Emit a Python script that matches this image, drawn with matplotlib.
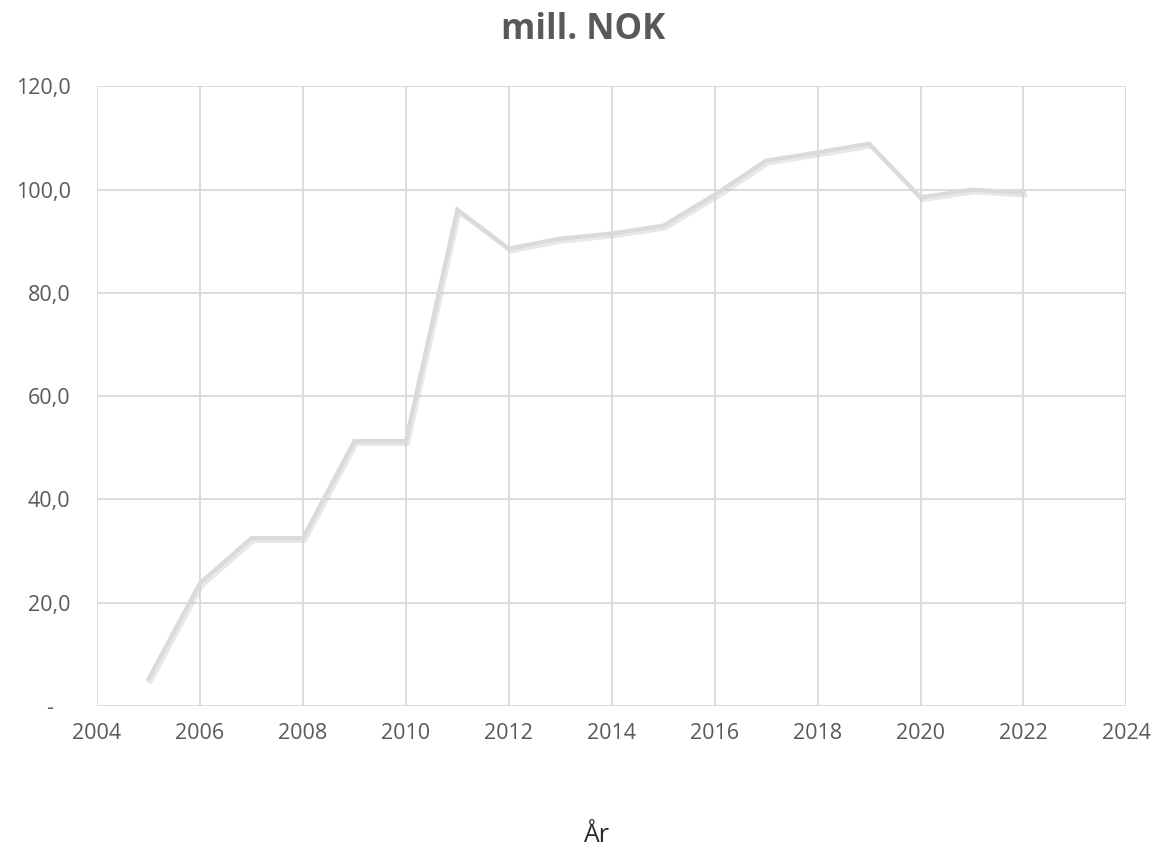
import matplotlib.pyplot as plt
import matplotlib.patheffects as pe
from matplotlib.ticker import FuncFormatter

plt.rcParams['font.family'] = ['Open Sans', 'DejaVu Sans']

aar = [2005, 2006, 2007, 2008, 2009, 2010, 2011, 2012, 2013,
       2014, 2015, 2016, 2017, 2018, 2019, 2020, 2021, 2022]
mill_nok = [5.2, 23.8, 32.5, 32.5, 51.3, 51.3, 96.1, 88.6, 90.5,
            91.5, 93.0, 99.0, 105.6, 107.2, 108.9, 98.5, 100.0, 99.4]

x_ticks = list(range(2004, 2025, 2))
y_ticks = [0, 20, 40, 60, 80, 100, 120]

grey = '#595959'
grid = '#d9d9d9'

fig = plt.figure(figsize=(11.52, 8.46), dpi=100)
ax = fig.add_axes([0.0842, 0.1655, 0.8936, 0.7325])

ax.plot(aar, mill_nok, color='#dadada', linewidth=3, solid_joinstyle='miter',
        path_effects=[pe.SimpleLineShadow(offset=(1.5, -2), shadow_color='#bfbfbf', alpha=0.35),
                      pe.Normal()], zorder=3)

ax.set_xlim(2004, 2024)
ax.set_ylim(0, 120)
ax.set_xticks(x_ticks)
ax.set_yticks(y_ticks)


def fmt(v, pos):
    # excel-style: zero shown as a dash
    if v == 0:
        return '-   '
    return ('%.1f' % v).replace('.', ',')


ax.yaxis.set_major_formatter(FuncFormatter(fmt))
ax.grid(True, color=grid, linewidth=1.3)
ax.set_axisbelow(True)
for s in ax.spines.values():
    s.set_visible(False)
ax.tick_params(length=0, labelsize=15.5, labelcolor=grey)
ax.tick_params(axis='x', pad=12)
ax.tick_params(axis='y', pad=19)

fig.text(0.506, 0.965, 'mill. NOK', ha='center', va='center',
         fontsize=25, fontweight='bold', color=grey)
fig.text(0.517, 0.012, 'År', ha='center', va='center', fontsize=18, color='#262626')

fig.savefig('out.png', dpi=100)
